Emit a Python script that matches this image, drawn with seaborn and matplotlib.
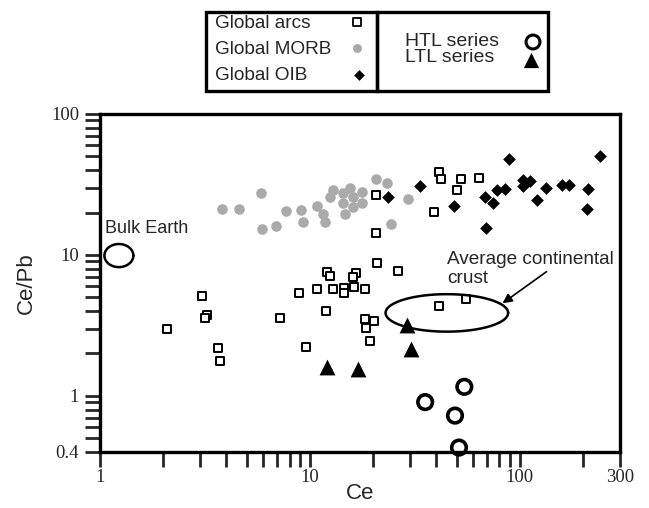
import numpy as np
import pandas as pd
import matplotlib
matplotlib.use("Agg")
import matplotlib.pyplot as plt
import seaborn as sns
from matplotlib.patches import Rectangle

# Ce (ppm) and Ce/Pb
arcs_ce = [2.09, 3.07, 3.23, 3.17, 3.65, 3.71, 7.24, 8.85, 9.57, 10.8, 11.9, 12.09,
           12.52, 12.91, 14.47, 14.55, 16.2, 16.52, 16.06, 18.34, 18.37, 20.13, 18.57,
           19.31, 20.92, 26.3, 41.3, 55.7, 20.7, 20.6, 41.1, 41.9, 52.3, 63.7, 50.0, 38.9]
arcs_cepb = [2.97, 5.12, 3.77, 3.57, 2.20, 1.76, 3.55, 5.40, 2.24, 5.77, 4.03, 7.57,
             7.10, 5.74, 5.83, 5.40, 5.90, 7.42, 6.95, 5.71, 3.53, 3.42, 3.01,
             2.47, 8.73, 7.70, 4.34, 4.86, 26.7, 14.4, 38.9, 34.6, 34.6, 35.3, 29.0, 20.2]

morb_ce = [3.80, 4.61, 5.84, 5.89, 6.89, 7.66, 9.11, 9.31, 10.8, 11.57, 11.83, 12.45,
           12.87, 14.31, 14.36, 14.76, 15.5, 16.03, 16.08, 17.78, 17.69, 20.7, 23.3, 29.4, 24.4]
morb_cepb = [21.3, 21.3, 27.4, 15.2, 16.0, 20.5, 20.8, 17.1, 22.1, 19.5, 17.1, 25.7,
             28.9, 27.7, 23.4, 19.4, 29.7, 25.9, 22.0, 27.8, 23.3, 34.8, 32.3, 24.8, 16.6]

oib_ce = [23.6, 33.3, 48.6, 67.9, 74.4, 78.0, 84.8, 68.9, 88.8, 103.3, 103.0, 112.2,
          133.0, 120.9, 159.4, 170.8, 212, 208.4, 241]
oib_cepb = [25.9, 30.8, 22.4, 25.7, 23.3, 28.7, 29.2, 15.6, 47.8, 34.2, 30.9, 33.5,
            30.0, 24.7, 31.4, 31.4, 29.3, 21.3, 50.4]

htl_ce = [54.4, 35.4, 49.1, 51.3]
htl_cepb = [1.16, 0.904, 0.725, 0.43]

ltl_ce = [12.09, 16.96, 29.07, 30.2]
ltl_cepb = [1.61, 1.54, 3.17, 2.14]

# reference reservoirs (centre and half axes in log units)
bulk_earth = (1.23, 9.9, 0.069, 0.082)
avg_crust = (44.9, 3.88, 0.292, 0.133)

sns.set_style("white")
plt.rcParams["font.family"] = ["Liberation Sans", "DejaVu Sans"]

fig = plt.figure(figsize=(6.49, 5.08), dpi=100)
ax = fig.add_axes([100 / 649, 56 / 508, 520 / 649, 338 / 508])

sns.scatterplot(x=morb_ce, y=morb_cepb, ax=ax, color="#aaaaaa", marker="o",
                s=58, linewidth=0)
sns.scatterplot(x=arcs_ce, y=arcs_cepb, ax=ax, marker="s", s=40,
                facecolor="white", edgecolor="black", linewidth=1.4)
sns.scatterplot(x=oib_ce, y=oib_cepb, ax=ax, marker="D", s=42, color="black",
                linewidth=0)
sns.scatterplot(x=ltl_ce, y=ltl_cepb, ax=ax, marker="^", s=130, color="black",
                linewidth=0)
sns.scatterplot(x=htl_ce, y=htl_cepb, ax=ax, marker="o", s=110,
                facecolor="none", edgecolor="black", linewidth=2.6, clip_on=False)

t = np.linspace(0, 2 * np.pi, 200)
for cx, cy, a, b in (bulk_earth, avg_crust):
    ax.plot(10 ** (np.log10(cx) + a * np.cos(t)), 10 ** (np.log10(cy) + b * np.sin(t)),
            color="black", lw=1.8)

ax.text(1.056, 15.3, "Bulk Earth", fontsize=13, va="center", ha="left")
ax.text(45.2, 10.6, "Average continental\ncrust", fontsize=13.7, va="top",
        ha="left", linespacing=1.1)
ax.annotate("", xy=(82.7, 4.54), xytext=(134, 7.61),
            arrowprops=dict(arrowstyle="-|>", color="black", lw=1.2,
                            shrinkA=0, shrinkB=0, mutation_scale=14))

ax.set_xscale("log")
ax.set_yscale("log")
ax.set_xlim(1, 300)
ax.set_ylim(0.4, 100)
ax.set_xticks([1, 10, 100, 300])
ax.set_xticklabels(["1", "10", "100", "300"])
ax.set_yticks([0.4, 1, 10, 100])
ax.set_yticklabels(["0.4", "1", "10", "100"])
for lab in ax.get_xticklabels() + ax.get_yticklabels():
    lab.set_fontfamily("Liberation Serif")
    lab.set_fontsize(13.5)
ax.tick_params(which="both", direction="out", length=11, width=2,
               top=False, right=False, bottom=True, left=True)
ax.tick_params(axis="x", pad=1)
ax.tick_params(axis="y", pad=4)
for sp in ax.spines.values():
    sp.set_linewidth(2.4)
    sp.set_color("black")
ax.set_xlabel("Ce", fontsize=16, labelpad=-2)
ax.set_ylabel("Ce/Pb", fontsize=16, labelpad=10)

# legend boxes drawn in pixel space
lg = fig.add_axes([0, 0, 1, 1], facecolor="none")
lg.set_xlim(0, 649)
lg.set_ylim(508, 0)
lg.axis("off")
lg.add_patch(Rectangle((206, 12), 171, 79, fill=False, lw=2.4, ec="black"))
lg.add_patch(Rectangle((377, 12), 171, 79, fill=False, lw=2.4, ec="black"))
for y, name in zip([23, 49, 76], ["Global arcs", "Global MORB", "Global OIB"]):
    lg.text(215, y, name, fontsize=13.7, va="center", ha="left")
lg.scatter([357], [22], marker="s", s=30, facecolor="white", edgecolor="black", lw=1.3)
lg.scatter([357], [48], marker="o", s=42, color="#aaaaaa", lw=0)
lg.scatter([359], [75], marker="D", s=30, color="black", lw=0)
lg.text(405, 41, "HTL series", fontsize=14, va="center", ha="left")
lg.text(405, 58, "LTL series", fontsize=14, va="center", ha="left")
lg.scatter([533], [42], marker="o", s=100, facecolor="none", edgecolor="black", lw=2.2)
lg.scatter([531], [60], marker="^", s=120, color="black", lw=0)

fig.savefig("out.png", dpi=100)
